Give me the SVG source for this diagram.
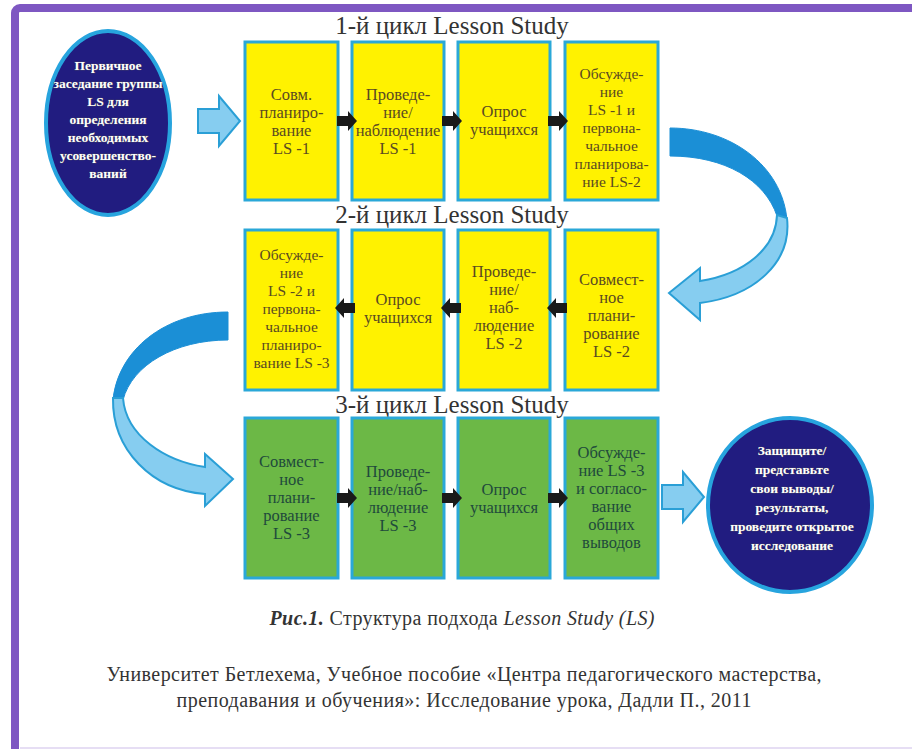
<svg xmlns="http://www.w3.org/2000/svg" width="912" height="749" viewBox="0 0 912 749">
<defs>
<style>
.title{font-family:"Liberation Serif","Times New Roman",serif;font-size:25px;fill:#333;text-anchor:middle}
.y rect{fill:#fff200;stroke:#2aa8d8;stroke-width:3}
.g rect{fill:#6cb846;stroke:#2aa8d8;stroke-width:3}
.y text{font-family:"Liberation Serif",serif;font-size:16.5px;fill:#5a4a22;text-anchor:middle}
.g text{font-family:"Liberation Serif",serif;font-size:16.5px;fill:#1f4a3c;text-anchor:middle}
.y.s text{font-size:15.5px}
.ell ellipse{fill:#211c80;stroke:#27a4de;stroke-width:4}
.ell text{font-family:"Liberation Serif",serif;font-size:13.5px;font-weight:bold;fill:#fff;text-anchor:middle;stroke:#555;stroke-width:0.6;paint-order:stroke}
.blk{fill:#1a1a1a}
.bl{fill:#86cdf0;stroke:#2a9fd6;stroke-width:2}
.dk{fill:#1b8fd6;stroke:#1b8fd6;stroke-width:1}
.cap{font-family:"Liberation Serif",serif;font-size:20px;fill:#333;text-anchor:middle}
</style>
<path id="ar" d="M0,-5 L11,-5 L11,-10 L20,0 L11,10 L11,5 L0,5 Z"/>
</defs>
<rect width="912" height="749" fill="#fff"/>
<rect x="15" y="8" width="910" height="750" rx="5" fill="none" stroke="#7e57c2" stroke-width="8"/>
<line x1="20" y1="748" x2="912" y2="748" stroke="#e6def4" stroke-width="2"/>

<text class="title" x="452" y="34">1-й цикл Lesson Study</text>
<text class="title" x="452" y="223">2-й цикл Lesson Study</text>
<text class="title" x="452" y="413">3-й цикл Lesson Study</text>

<g id="start" class="ell">
<ellipse cx="108" cy="123" rx="62" ry="92"/>
<text x="108" y="70">Первичное</text>
<text x="108" y="88">заседание группы</text>
<text x="108" y="106">LS для</text>
<text x="108" y="124">определения</text>
<text x="108" y="142">необходимых</text>
<text x="108" y="160">усовершенство-</text>
<text x="108" y="178">ваний</text>
</g>

<g id="r1b1" class="y"><rect x="245" y="42" width="93" height="158"/>
<text x="291.5" y="100">Совм.</text><text x="291.5" y="118">планиро-</text><text x="291.5" y="136">вание</text><text x="291.5" y="154">LS -1</text></g>
<g id="r1b2" class="y"><rect x="352" y="42" width="92" height="158"/>
<text x="398" y="100">Проведе-</text><text x="398" y="118">ние/</text><text x="398" y="136">наблюдение</text><text x="398" y="154">LS -1</text></g>
<g id="r1b3" class="y"><rect x="458" y="42" width="92" height="158"/>
<text x="504" y="117">Опрос</text><text x="504" y="135">учащихся</text></g>
<g id="r1b4" class="y s"><rect x="565" y="42" width="93" height="158"/>
<text x="611.5" y="79">Обсужде-</text><text x="611.5" y="97">ние</text><text x="611.5" y="115">LS -1 и</text><text x="611.5" y="133">первона-</text><text x="611.5" y="151">чальное</text><text x="611.5" y="169">планирова-</text><text x="611.5" y="187">ние LS-2</text></g>

<g id="r2b1" class="y s"><rect x="245" y="230" width="93" height="160"/>
<text x="291.5" y="260">Обсужде-</text><text x="291.5" y="278">ние</text><text x="291.5" y="296">LS -2 и</text><text x="291.5" y="314">первона-</text><text x="291.5" y="332">чальное</text><text x="291.5" y="350">планиро-</text><text x="291.5" y="368">вание LS -3</text></g>
<g id="r2b2" class="y"><rect x="352" y="230" width="92" height="160"/>
<text x="398" y="305">Опрос</text><text x="398" y="323">учащихся</text></g>
<g id="r2b3" class="y"><rect x="458" y="230" width="92" height="160"/>
<text x="504" y="277">Проведе-</text><text x="504" y="295">ние/</text><text x="504" y="313">наб-</text><text x="504" y="331">людение</text><text x="504" y="349">LS -2</text></g>
<g id="r2b4" class="y"><rect x="565" y="230" width="93" height="160"/>
<text x="611.5" y="285">Совмест-</text><text x="611.5" y="303">ное</text><text x="611.5" y="321">плани-</text><text x="611.5" y="339">рование</text><text x="611.5" y="357">LS -2</text></g>

<g id="r3b1" class="g"><rect x="245" y="418" width="93" height="160"/>
<text x="291.5" y="467">Совмест-</text><text x="291.5" y="485">ное</text><text x="291.5" y="503">плани-</text><text x="291.5" y="521">рование</text><text x="291.5" y="539">LS -3</text></g>
<g id="r3b2" class="g"><rect x="352" y="418" width="92" height="160"/>
<text x="398" y="477">Проведе-</text><text x="398" y="495">ние/наб-</text><text x="398" y="513">людение</text><text x="398" y="531">LS -3</text></g>
<g id="r3b3" class="g"><rect x="458" y="418" width="92" height="160"/>
<text x="504" y="495">Опрос</text><text x="504" y="513">учащихся</text></g>
<g id="r3b4" class="g"><rect x="565" y="418" width="93" height="160"/>
<text x="611.5" y="458">Обсужде-</text><text x="611.5" y="476">ние  LS -3</text><text x="611.5" y="494">и согласо-</text><text x="611.5" y="512">вание</text><text x="611.5" y="530">общих</text><text x="611.5" y="548">выводов</text></g>

<g id="end" class="ell">
<ellipse cx="790" cy="505" rx="82" ry="87"/>
<text x="792" y="455">Защищите/</text>
<text x="792" y="474">представьте</text>
<text x="792" y="493">свои выводы/</text>
<text x="792" y="512">результаты,</text>
<text x="792" y="531">проведите открытое</text>
<text x="792" y="550">исследование</text>
</g>

<g id="connectors">
<path class="bl" d="M198,109 L219,109 L219,96 L240,121 L219,146 L219,133 L198,133 Z"/>
<path class="bl" d="M662,485 L683,485 L683,472 L704,497 L683,522 L683,509 L662,509 Z"/>
<use href="#ar" class="blk" x="337" y="121"/>
<use href="#ar" class="blk" x="442" y="121"/>
<use href="#ar" class="blk" x="548" y="121"/>
<use href="#ar" class="blk" transform="translate(355,308) scale(-1,1)"/>
<use href="#ar" class="blk" transform="translate(461,308) scale(-1,1)"/>
<use href="#ar" class="blk" transform="translate(567,308) scale(-1,1)"/>
<use href="#ar" class="blk" x="337" y="498"/>
<use href="#ar" class="blk" x="442" y="498"/>
<use href="#ar" class="blk" x="548" y="498"/>
<path class="dk" d="M670,128 C730,128 782,165 787,220 L777,216 C765,180 725,156 670,156 Z"/>
<path class="bl" d="M787,218 C792,262 755,296 700,303 L700,320 L669,293 L700,268 L700,281 C745,274 776,248 777,215 Z"/>
<path class="dk" d="M228,312 C165,312 118,350 113,400 L123,400 C132,365 175,340 228,340 Z"/>
<path class="bl" d="M113,398 C112,450 152,490 205,494 L205,506 L233,479 L205,454 L205,467 C165,461 126,436 123,398 Z"/>
</g>

<text class="cap" x="462" y="625" textLength="385"><tspan font-weight="bold" font-style="italic">Рис.1.</tspan> Структура подхода <tspan font-style="italic">Lesson Study (LS)</tspan></text>
<text class="cap" x="464" y="681" textLength="715">Университет Бетлехема, Учебное пособие «Центра педагогического мастерства,</text>
<text class="cap" x="464" y="707" textLength="575">преподавания и обучения»: Исследование урока, Дадли П., 2011</text>
</svg>
